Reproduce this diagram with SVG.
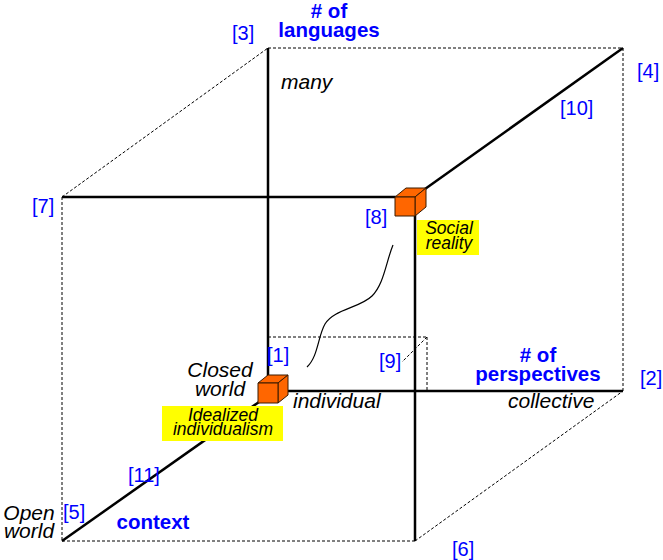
<svg xmlns="http://www.w3.org/2000/svg" width="663" height="560" viewBox="0 0 663 560">
<style>
.dash{stroke:#000;stroke-width:1;stroke-dasharray:3,2;fill:none}
.axis{stroke:#000;stroke-width:2.5;fill:none}
.curve{stroke:#000;stroke-width:1.2;fill:none}
.num{font-family:"Liberation Sans",Arial,sans-serif;font-size:20px;fill:#0000ff}
.ttl{font-family:"Liberation Sans",Arial,sans-serif;font-size:20.5px;font-weight:bold;fill:#0000ff;text-anchor:middle}
.lbl{font-family:"Liberation Sans",Arial,sans-serif;font-size:21px;font-style:italic;fill:#000}
.note{font-family:"Liberation Sans",Arial,sans-serif;font-size:17.5px;font-style:italic;fill:#000;text-anchor:middle}
.box{fill:#ffff00}
.cube{fill:#ff6600;stroke:#3a1a00;stroke-width:1;stroke-linejoin:round}
</style>
<rect width="663" height="560" fill="#fff"/>
<g id="connectors">
<line class="dash" x1="268" y1="48" x2="623" y2="48"/>
<line class="dash" x1="623" y1="48" x2="623" y2="391"/>
<line class="dash" x1="62" y1="197" x2="268" y2="48"/>
<line class="dash" x1="62" y1="197" x2="62" y2="541"/>
<line class="dash" x1="62" y1="541" x2="415" y2="541"/>
<line class="dash" x1="415" y1="541" x2="623" y2="391"/>
<line class="dash" x1="268" y1="337" x2="427" y2="337"/>
<line class="dash" x1="427" y1="337" x2="427" y2="391"/>
<line class="dash" x1="427" y1="337" x2="402" y2="362"/>
<line class="axis" x1="268" y1="48" x2="268" y2="376"/>
<line class="axis" x1="62" y1="197" x2="396" y2="197"/>
<line class="axis" x1="425" y1="189" x2="623" y2="48"/>
<line class="axis" x1="415" y1="215" x2="415" y2="541"/>
<line class="axis" x1="287" y1="391" x2="623" y2="391"/>
<line class="axis" x1="62" y1="541" x2="259" y2="402"/>
<path class="curve" d="M307,367 C318,357 318,336 325,324 C334,309 360,308 372,296 C384,284 386,262 393,245"/>
</g>
<g id="axis-languages">
<text class="ttl" x="329" y="18"># of</text>
<text class="ttl" x="329" y="37">languages</text>
<text class="lbl" x="281" y="89">many</text>
</g>
<g id="axis-perspectives">
<text class="ttl" x="538" y="362"># of</text>
<text class="ttl" x="538" y="381">perspectives</text>
<text class="lbl" x="293" y="408">individual</text>
<text class="lbl" x="508" y="408">collective</text>
</g>
<g id="axis-context">
<text class="ttl" x="153" y="529">context</text>
<text class="lbl" x="220" y="377" text-anchor="middle">Closed</text>
<text class="lbl" x="220" y="396" text-anchor="middle">world</text>
<text class="lbl" x="29" y="520" text-anchor="middle">Open</text>
<text class="lbl" x="29" y="538" text-anchor="middle">world</text>
</g>
<g id="node-social-reality">
<polygon class="cube" points="395,197 406,188 426,188 415,197"/>
<polygon class="cube" points="415,197 426,188 426,207 415,216"/>
<rect class="cube" x="395" y="197" width="20" height="19"/>
<rect class="box" x="417" y="220" width="62" height="35"/>
<text class="note" x="449" y="234">Social</text>
<text class="note" x="449" y="249">reality</text>
</g>
<g id="node-idealized-individualism">
<polygon class="cube" points="258,383 268,375 288,375 278,383"/>
<polygon class="cube" points="278,383 288,375 288,395 278,403"/>
<rect class="cube" x="258" y="383" width="20" height="20"/>
<rect class="box" x="162" y="406" width="121" height="35"/>
<text class="note" x="223" y="421">Idealized</text>
<text class="note" x="223" y="435">individualism</text>
</g>
<g id="corner-labels">
<text class="num" x="232" y="40">[3]</text>
<text class="num" x="637" y="78">[4]</text>
<text class="num" x="560" y="115">[10]</text>
<text class="num" x="32" y="213">[7]</text>
<text class="num" x="365" y="224">[8]</text>
<text class="num" x="267" y="362">[1]</text>
<text class="num" x="379" y="368">[9]</text>
<text class="num" x="640" y="385">[2]</text>
<text class="num" x="128" y="482">[11]</text>
<text class="num" x="63" y="519">[5]</text>
<text class="num" x="452" y="556">[6]</text>
</g>
</svg>
